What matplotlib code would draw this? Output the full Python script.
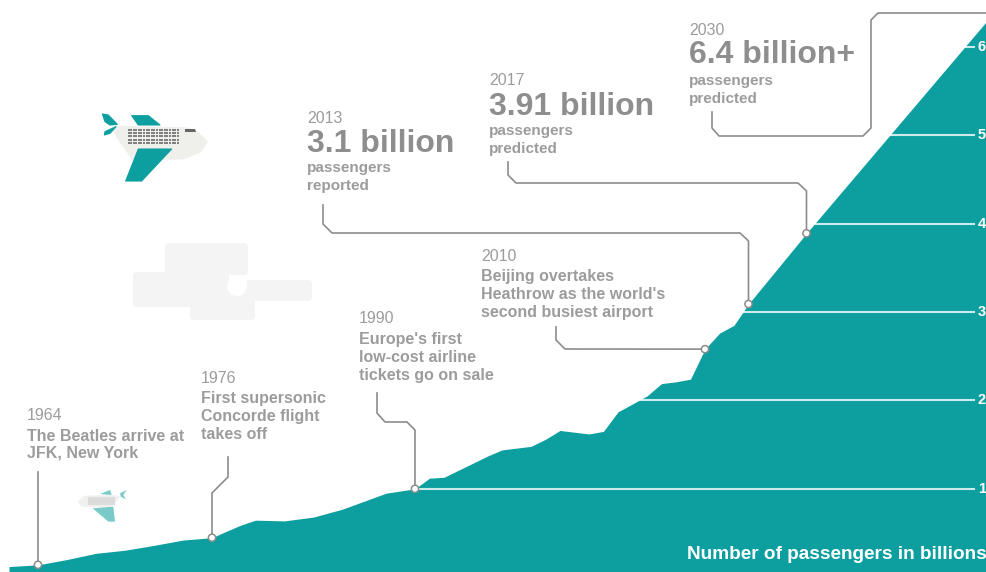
import numpy as np
import matplotlib
matplotlib.use('Agg')
import matplotlib.pyplot as plt
from matplotlib.patches import Polygon, Circle, FancyBboxPatch

W, H = 987, 572
TEAL = '#0d9f9f'
GREY = '#9c9c9c'
LINE = '#8c8c8c'
CLOUD = '#f4f4f4'

plt.rcParams['font.family'] = ['Liberation Sans', 'DejaVu Sans']

# passengers in billions
years = [1962, 1964, 1966, 1968, 1970, 1972, 1974, 1976, 1977, 1978, 1979, 1981,
         1983, 1985, 1987, 1988, 1990, 1991, 1992, 1993, 1994, 1995, 1996, 1997,
         1998, 1999, 2000, 2001, 2002, 2003, 2004, 2005, 2006, 2007, 2008, 2009,
         2010, 2011, 2012, 2013, 2017, 2030]
passengers = [0.12, 0.14, 0.20, 0.27, 0.305, 0.36, 0.42, 0.447, 0.52, 0.59, 0.645, 0.637,
              0.68, 0.77, 0.89, 0.95, 1.0, 1.12, 1.13, 1.21, 1.29, 1.37, 1.44, 1.46,
              1.48, 1.56, 1.66, 1.64, 1.62, 1.65, 1.87, 1.96, 2.05, 2.19, 2.21, 2.24,
              2.58, 2.76, 2.85, 3.09, 3.89, 6.4]

y_ticks = [1, 2, 3, 4, 5, 6]

# year, small note
small_notes = [
    (1964, ['The Beatles arrive at', 'JFK, New York']),
    (1976, ['First supersonic', 'Concorde flight', 'takes off']),
    (1990, ["Europe's first", 'low-cost airline', 'tickets go on sale']),
    (2010, ['Beijing overtakes', "Heathrow as the world's", 'second busiest airport']),
]
# year, headline, note
big_notes = [
    (2013, '3.1 billion', ['passengers', 'reported']),
    (2017, '3.91 billion', ['passengers', 'predicted']),
    (2030, '6.4 billion+', ['passengers', 'predicted']),
]

fig = plt.figure(figsize=(W / 100, H / 100), dpi=100, facecolor='white')
ax = fig.add_axes([0, 0, 1, 1])
ax.set_xlim(1961.38, 2029.45)
ax.set_ylim((577.2 - H) / 88.4, 577.2 / 88.4)
ax.axis('off')

# overlay in pixels for decoration and text
px = fig.add_axes([0, 0, 1, 1], facecolor='none')
px.set_xlim(0, W)
px.set_ylim(H, 0)
px.axis('off')


def to_px(year, value):
    p = ax.transData.transform((year, value))
    return px.transData.inverted().transform(p)


ax.fill_between(years, passengers, ax.get_ylim()[0], color=TEAL, lw=0)

# gridlines from the curve to the right hand labels
for t in y_ticks:
    start = np.interp(t, passengers, years)
    ax.plot([start, 2028.65], [t, t], color='white', lw=1.5, alpha=0.8, solid_capstyle='butt')
    xp, yp = to_px(2000, t)
    px.text(982, yp, str(t), color='white', fontsize=10.5, fontweight='bold', ha='center', va='center')

px.text(687, 559, 'Number of passengers in billions', color='white', fontsize=13.65,
        fontweight='bold', ha='left', va='baseline')

# leaders, start of each one in pixels, the last point sits on the curve
leaders = {
    1964: [(38, 472)],
    1976: [(228, 457), (228, 477), (212, 493)],
    1990: [(377, 393), (377, 413), (385, 422), (407, 422), (415, 430)],
    2010: [(556, 327), (556, 340), (565, 349)],
    2013: [(323, 205), (323, 224), (332, 233), (740, 233), (748.5, 241)],
    2017: [(508, 162), (508, 175), (516, 183), (798, 183), (806.5, 191)],
}
for yr, pts in leaders.items():
    end = to_px(yr, np.interp(yr, years, passengers))
    xs = [p[0] for p in pts] + [end[0]]
    ys = [p[1] for p in pts] + [end[1]]
    px.plot(xs, ys, color=LINE, lw=1.2, solid_joinstyle='round')
    px.add_patch(Circle(end, 3.6, facecolor='white', edgecolor=LINE, lw=1.1, zorder=5))

px.plot([712, 712, 719, 863, 871, 871, 878, 987], [112, 128, 136, 136, 128, 20, 13, 13],
        color=LINE, lw=1.2)

# text blocks
small_pos = {1964: (27, 420, [441, 458]), 1976: (201, 383, [403, 421, 439]),
             1990: (359, 323, [344, 362, 380]), 2010: (481, 261, [281, 299, 317])}
for yr, lines in small_notes:
    x, y0, bases = small_pos[yr]
    px.text(x, y0, str(yr), color=GREY, fontsize=11.5, ha='left', va='baseline')
    for s, b in zip(lines, bases):
        px.text(x, b, s, color=GREY, fontsize=11.5, fontweight='bold', ha='left', va='baseline')

big_pos = {2013: (307, 123, 152, [172, 190]), 2017: (489, 85, 115, [135, 153]),
           2030: (689, 35, 63, [85, 103])}
for yr, head, lines in big_notes:
    x, y0, yb, bases = big_pos[yr]
    px.text(x, y0, str(yr), color=GREY, fontsize=11.5, ha='left', va='baseline')
    px.text(x, yb, head, color='#8e8e8e', fontsize=23, fontweight='bold', ha='left', va='baseline')
    for s, b in zip(lines, bases):
        px.text(x, b, s, color=GREY, fontsize=11, fontweight='bold', ha='left', va='baseline')

# cloud made of rounded blocks with a round bite taken out
for bx, by, bw, bh in [(165, 243, 83, 32), (133, 272, 96, 35), (240, 280, 72, 21), (190, 296, 65, 24)]:
    px.add_patch(FancyBboxPatch((bx + 4, by + 4), bw - 8, bh - 8, boxstyle='round,pad=4,rounding_size=4',
                                facecolor=CLOUD, edgecolor='none'))
px.add_patch(Polygon([(222, 285), (244, 300), (222, 300)], facecolor=CLOUD, lw=0))
px.add_patch(Circle((237, 286), 10, facecolor='white', edgecolor='none'))
px.add_patch(Polygon([(229, 275), (248, 275), (248, 280), (240, 285), (229, 285)], facecolor='white', lw=0))


# planes, outlines in pixels
def zoomed(pts, ox, oy):
    return [(ox + a / 3, oy + b / 3) for a, b in pts]


body = [(165, 140), (380, 145), (410, 155), (440, 185), (420, 215), (370, 235), (220, 238), (185, 190), (160, 150)]
wing_top = [(215, 107), (265, 107), (300, 135), (235, 135)]
wing_low = [(235, 207), (335, 207), (245, 303), (197, 303)]
tail_up = [(127, 102), (145, 105), (172, 133), (150, 135), (135, 125)]
tail_low = [(133, 165), (135, 155), (168, 140), (150, 160)]
px.add_patch(Polygon(zoomed(body, 60, 80), facecolor='#efefec', edgecolor='#efefec', lw=1.5, joinstyle='round'))
for part in [wing_top, wing_low, tail_up, tail_low]:
    px.add_patch(Polygon(zoomed(part, 60, 80), facecolor=TEAL, edgecolor=TEAL, lw=0.8, joinstyle='round'))
wx, wy = np.meshgrid(np.arange(128.5, 179, 2.6), np.arange(130, 145, 3.2))
px.scatter(wx, wy, s=2.0, marker='s', color='#808080', lw=0)
px.add_patch(Polygon([(185, 129), (195, 129), (196, 132), (185, 132)], facecolor='#666666', lw=0))

body2 = [(360, 350), (340, 345), (255, 347), (232, 365), (245, 380), (330, 382), (345, 370)]
wing2_low = [(278, 385), (340, 380), (345, 425), (325, 425)]
wing2_top = [(300, 342), (330, 330), (335, 345)]
tail2 = [(360, 340), (380, 330), (370, 345), (378, 358), (362, 350)]
px.add_patch(Polygon(zoomed(body2, 0, 380), facecolor='#f0f0ee', lw=0))
for part in [wing2_low, wing2_top, tail2]:
    px.add_patch(Polygon(zoomed(part, 0, 380), facecolor=TEAL, alpha=0.55, lw=0))
px.add_patch(Polygon(zoomed([(265, 350), (345, 350), (345, 375), (265, 375)], 0, 380), facecolor='#dcdcdc', lw=0))

fig.savefig('out.png', dpi=100, facecolor='white')
